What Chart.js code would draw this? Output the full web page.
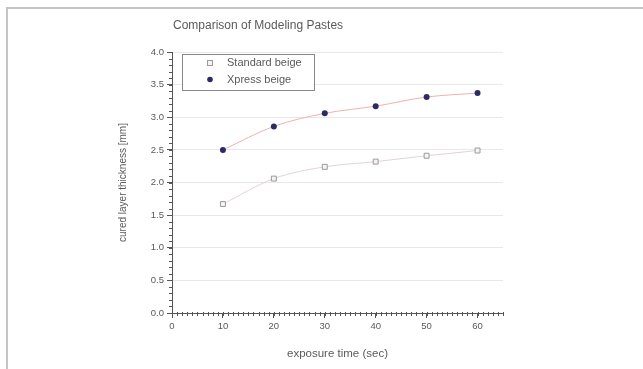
<!DOCTYPE html>
<html>
<head>
<meta charset="utf-8">
<script src="https://cdn.jsdelivr.net/npm/chart.js@4/dist/chart.umd.min.js"></script>
<style>
  html, body { margin: 0; padding: 0; background: #fff; }
  #wrap { position: relative; width: 643px; height: 369px; }
  #frame { position: absolute; left: 6px; top: 7px; width: 637px; height: 362px;
           border-top: 2px solid #c4c4c4; border-left: 2px solid #c4c4c4; box-sizing: border-box; pointer-events: none; }
</style>
</head>
<body>
<div id="wrap">
  <canvas id="c" width="643" height="369"></canvas>
  <div id="frame"></div>
</div>
<script>
const chartTitle = 'Comparison of Modeling Pastes';
const xAxisTitle = 'exposure time (sec)';
const yAxisTitle = 'cured layer thickness [mm]';
const seriesNames = ['Standard beige', 'Xpress beige'];
const exposureTimes = [10, 20, 30, 40, 50, 60];
const standardBeige = [1.67, 2.06, 2.24, 2.32, 2.41, 2.49];
const xpressBeige = [2.50, 2.86, 3.06, 3.17, 3.31, 3.37];
const xTicks = [0, 10, 20, 30, 40, 50, 60];
const yTicks = [0, 0.5, 1.0, 1.5, 2.0, 2.5, 3.0, 3.5, 4.0];

const FONT = '"Liberation Sans", Arial, sans-serif';
const TEXT = '#5a5a5a';
const AXIS = '#555';

const toXY = (vals) => exposureTimes.map((t, i) => ({ x: t, y: vals[i] }));

const extras = {
  id: 'extras',
  afterDraw(chart) {
    const ctx = chart.ctx;
    const xs = chart.scales.x, ys = chart.scales.y;
    ctx.save();
    // minor ticks
    ctx.strokeStyle = AXIS;
    ctx.lineWidth = 1;
    ctx.beginPath();
    for (let i = 0; i <= 40; i++) {
      const py = Math.round(ys.getPixelForValue(i / 10)) + 0.5;
      ctx.moveTo(xs.left - 3, py); ctx.lineTo(xs.left + 1, py);
    }
    for (let i = 0; i <= 65; i++) {
      const px = Math.round(xs.getPixelForValue(i)) + 0.5;
      ctx.moveTo(px, ys.bottom - 1); ctx.lineTo(px, ys.bottom + 3);
    }
    ctx.stroke();
    // title
    ctx.fillStyle = TEXT;
    ctx.font = '12px ' + FONT;
    ctx.textAlign = 'left';
    ctx.textBaseline = 'middle';
    ctx.fillText(chartTitle, 173, 26);
    // legend
    const bx = 182.5, by = 54.5, bw = 132, bh = 36;
    ctx.fillStyle = '#fff';
    ctx.fillRect(bx, by, bw, bh);
    ctx.strokeStyle = '#888';
    ctx.lineWidth = 1;
    ctx.strokeRect(bx, by, bw, bh);
    const ds = chart.data.datasets;
    const rows = [63, 79.5];
    // standard marker: open square
    ctx.fillStyle = '#f4f4f4';
    ctx.strokeStyle = ds[0].pointBorderColor;
    ctx.fillRect(207, rows[0] - 3, 6, 6);
    ctx.strokeRect(207.5, rows[0] - 2.5, 5, 5);
    // xpress marker: filled circle
    ctx.fillStyle = ds[1].pointBackgroundColor;
    ctx.beginPath(); ctx.arc(210, rows[1], 2.8, 0, Math.PI * 2); ctx.fill();
    ctx.fillStyle = TEXT;
    ctx.font = '11px ' + FONT;
    ctx.textBaseline = 'middle';
    ctx.fillText(seriesNames[0], 227, rows[0]);
    ctx.fillText(seriesNames[1], 227, rows[1]);
    ctx.restore();
  }
};

new Chart(document.getElementById('c'), {
  type: 'line',
  data: {
    datasets: [
      {
        label: seriesNames[0],
        data: toXY(standardBeige),
        borderColor: '#e2d4d4',
        borderWidth: 1,
        cubicInterpolationMode: 'monotone',
        pointStyle: 'rect',
        pointRadius: 3.5,
        pointBackgroundColor: '#f4f4f4',
        pointBorderColor: '#9a9a9a',
        pointBorderWidth: 1
      },
      {
        label: seriesNames[1],
        data: toXY(xpressBeige),
        borderColor: '#f2b0b0',
        borderWidth: 1,
        cubicInterpolationMode: 'monotone',
        pointStyle: 'circle',
        pointRadius: 3,
        pointBackgroundColor: '#2c2c64',
        pointBorderColor: '#2c2c64',
        pointBorderWidth: 0
      }
    ]
  },
  options: {
    responsive: false,
    animation: false,
    layout: { padding: { left: 110, top: 52, right: 140, bottom: 4 } },
    plugins: { legend: { display: false }, title: { display: false }, tooltip: { enabled: false } },
    scales: {
      x: {
        type: 'linear', min: 0, max: 65,
        afterFit(s) { s.height = 52; },
        afterBuildTicks(s) { s.ticks = xTicks.map(v => ({ value: v })); },
        ticks: { color: TEXT, font: { family: FONT, size: 9.5 }, padding: 3, maxRotation: 0,
                 callback: v => String(v) },
        grid: { drawOnChartArea: false, tickLength: 5, tickColor: AXIS },
        border: { color: AXIS, width: 1 },
        title: { display: true, text: xAxisTitle, color: TEXT, font: { family: FONT, size: 11.5 }, padding: { top: 4, bottom: 4 } }
      },
      y: {
        type: 'linear', min: 0, max: 4,
        afterFit(s) { s.width = 62; },
        afterBuildTicks(s) { s.ticks = yTicks.map(v => ({ value: v })); },
        ticks: { color: TEXT, font: { family: FONT, size: 9.5 }, padding: 3,
                 callback: v => Number(v).toFixed(1) },
        grid: { color: c => (c.tick && c.tick.value === 0) ? 'rgba(0,0,0,0)' : '#e8e8e8',
                lineWidth: 1, tickLength: 5, tickColor: AXIS },
        border: { color: AXIS, width: 1 },
        title: { display: true, text: yAxisTitle, color: TEXT, font: { family: FONT, size: 10 }, padding: { top: 7, bottom: 3 } }
      }
    }
  },
  plugins: [extras]
});
</script>
</body>
</html>
